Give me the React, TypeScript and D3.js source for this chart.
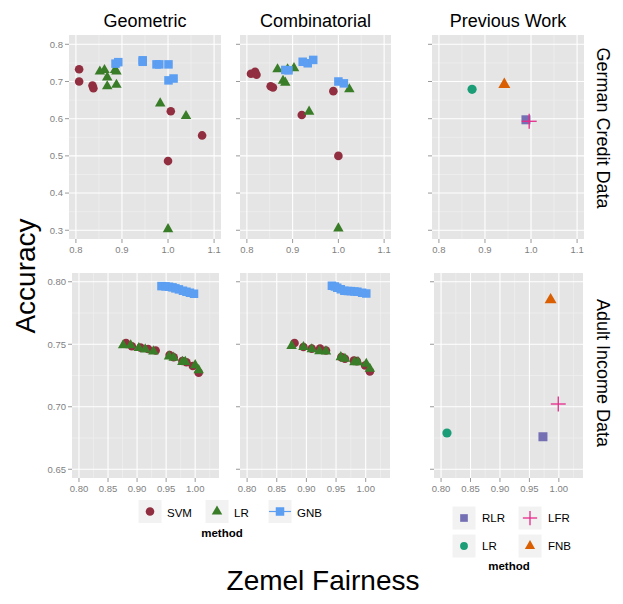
import React from "react";
import * as d3 from "d3";

type Pt = [number, number];

// ---------- Data: German Credit, Geometric ----------
const geoGermanSVM: Pt[] = [[0.807, 0.733], [0.807, 0.7], [0.836, 0.689], [0.838, 0.682], [1.006, 0.62], [1.074, 0.555], [1.0, 0.486]];
const geoGermanLR: Pt[] = [[0.852, 0.727], [0.862, 0.731], [0.868, 0.711], [0.868, 0.687], [0.885, 0.731], [0.888, 0.727], [0.888, 0.691], [0.983, 0.641], [1.039, 0.607], [1.0, 0.303]];
const geoGermanGNB: Pt[] = [[0.886, 0.748], [0.892, 0.752], [0.945, 0.757], [0.945, 0.753], [0.975, 0.746], [0.981, 0.746], [1.001, 0.746], [1.001, 0.703], [1.012, 0.708]];

// ---------- Data: German Credit, Combinatorial ----------
const comGermanSVM: Pt[] = [[0.809, 0.721], [0.818, 0.726], [0.821, 0.718], [0.852, 0.687], [0.857, 0.684], [0.92, 0.61], [0.989, 0.674], [1.0, 0.5]];
const comGermanLR: Pt[] = [[0.867, 0.733], [0.879, 0.702], [0.884, 0.697], [0.889, 0.733], [0.903, 0.736], [0.936, 0.619], [1.024, 0.679], [1.0, 0.305]];
const comGermanGNB: Pt[] = [[0.884, 0.731], [0.891, 0.73], [0.922, 0.753], [0.933, 0.749], [0.945, 0.758], [1.0, 0.7], [1.012, 0.695]];

// ---------- Data: German Credit, Previous Work ----------
const prevGermanRLR: Pt[] = [[0.989, 0.597]];
const prevGermanLFR: Pt[] = [[0.996, 0.593]];
const prevGermanLR: Pt[] = [[0.872, 0.679]];
const prevGermanFNB: Pt[] = [[0.942, 0.692]];

// ---------- Data: Adult Income, Geometric ----------
const geoAdultSVM: Pt[] = [[0.881, 0.751], [0.891, 0.7484], [0.906, 0.7473], [0.919, 0.7462], [0.932, 0.745], [0.956, 0.7414], [0.963, 0.7396], [0.978, 0.7366], [0.985, 0.7356], [0.996, 0.7326], [1.006, 0.7273]];
const geoAdultLR: Pt[] = [[0.876, 0.7492], [0.889, 0.7492], [0.903, 0.747], [0.914, 0.7459], [0.928, 0.7443], [0.955, 0.7403], [0.963, 0.7393], [0.978, 0.7359], [0.983, 0.7359], [1.0, 0.7333], [1.006, 0.7293]];
const geoAdultGNB: Pt[] = [[0.942, 0.7965], [0.949, 0.7963], [0.955, 0.796], [0.961, 0.7955], [0.966, 0.7947], [0.972, 0.7939], [0.979, 0.7928], [0.985, 0.792], [0.991, 0.7912], [0.998, 0.7904]];

// ---------- Data: Adult Income, Combinatorial ----------
const comAdultSVM: Pt[] = [[0.88, 0.751], [0.895, 0.7478], [0.909, 0.7465], [0.923, 0.7465], [0.933, 0.745], [0.959, 0.7397], [0.965, 0.7384], [0.98, 0.737], [0.985, 0.7365], [0.999, 0.733], [1.007, 0.7282]];
const comAdultLR: Pt[] = [[0.875, 0.7487], [0.895, 0.7478], [0.909, 0.746], [0.922, 0.7445], [0.933, 0.7443], [0.958, 0.7397], [0.965, 0.7384], [0.981, 0.7357], [0.987, 0.7357], [1.001, 0.7344], [1.007, 0.7304]];
const comAdultGNB: Pt[] = [[0.943, 0.7968], [0.948, 0.7962], [0.952, 0.7952], [0.958, 0.794], [0.964, 0.7928], [0.97, 0.7926], [0.975, 0.7925], [0.981, 0.7922], [0.986, 0.792], [0.994, 0.7912], [1.001, 0.7906]];

// ---------- Data: Adult Income, Previous Work ----------
const prevAdultRLR: Pt[] = [[0.973, 0.676]];
const prevAdultLFR: Pt[] = [[0.999, 0.7022]];
const prevAdultLR: Pt[] = [[0.81, 0.679]];
const prevAdultFNB: Pt[] = [[0.986, 0.7855]];

// ---------- Ticks ----------
const topXTicks = [0.8, 0.9, 1.0, 1.1];
const topXMinor = [0.85, 0.95, 1.05];
const topYTicks = [0.3, 0.4, 0.5, 0.6, 0.7, 0.8];
const topYMinor = [0.35, 0.45, 0.55, 0.65, 0.75];
const botXTicks = [0.8, 0.85, 0.9, 0.95, 1.0];
const botXMinor = [0.825, 0.875, 0.925, 0.975, 1.025];
const botYTicks = [0.65, 0.7, 0.75, 0.8];
const botYMinor = [0.675, 0.725, 0.775];

const colTitles = ["Geometric", "Combinatorial", "Previous Work"];
const rowTitles = ["German Credit Data", "Adult Income Data"];
const ourMethods = ["SVM", "LR", "GNB"];
const prevMethods = ["RLR", "LFR", "LR", "FNB"];

const FONT = "'Liberation Sans', Arial, Helvetica, sans-serif";
const C = {
  SVM: "#912f40",
  LR: "#3a7d28",
  GNB: "#5b9ef2",
  pRLR: "#7570b3",
  pLFR: "#e7298a",
  pLR: "#1b9e77",
  pFNB: "#d95f02",
};

type Shape = "circle" | "triangle" | "square" | "plus";

function Marker({ shape, cx, cy, color, s }: { shape: Shape; cx: number; cy: number; color: string; s: number }) {
  if (shape === "circle") return <circle cx={cx} cy={cy} r={s} fill={color} />;
  if (shape === "square") return <rect x={cx - s / 2} y={cy - s / 2} width={s} height={s} fill={color} />;
  if (shape === "triangle") {
    const h = (s * Math.sqrt(3)) / 2;
    const p = d3.path();
    p.moveTo(cx, cy - (2 * h) / 3);
    p.lineTo(cx - s / 2, cy + h / 3);
    p.lineTo(cx + s / 2, cy + h / 3);
    p.closePath();
    return <path d={p.toString()} fill={color} />;
  }
  return (
    <g stroke={color} strokeWidth={1.3}>
      <line x1={cx - s / 2} x2={cx + s / 2} y1={cy} y2={cy} />
      <line x1={cx} x2={cx} y1={cy - s / 2} y2={cy + s / 2} />
    </g>
  );
}

type Series = { data: Pt[]; shape: Shape; color: string; s: number };

type PanelProps = {
  x0: number; x1: number; y0: number; y1: number;
  xDom: [number, number]; yDom: [number, number];
  xTicks: number[]; xMinor: number[]; yTicks: number[]; yMinor: number[];
  fmt: string; yLabels: boolean; series: Series[];
};

function Panel(p: PanelProps) {
  const x = d3.scaleLinear().domain(p.xDom).range([p.x0, p.x1]);
  const y = d3.scaleLinear().domain(p.yDom).range([p.y1, p.y0]);
  const f = d3.format(p.fmt);
  const tickCol = "#7f7f7f";
  return (
    <g>
      <rect x={p.x0} y={p.y0} width={p.x1 - p.x0} height={p.y1 - p.y0} fill="#e5e5e5" />
      {p.xMinor.map((v) => (
        <line key={"xm" + v} x1={x(v)} x2={x(v)} y1={p.y0} y2={p.y1} stroke="#f2f2f2" strokeWidth={0.6} />
      ))}
      {p.yMinor.map((v) => (
        <line key={"ym" + v} x1={p.x0} x2={p.x1} y1={y(v)} y2={y(v)} stroke="#f2f2f2" strokeWidth={0.6} />
      ))}
      {p.xTicks.map((v) => (
        <line key={"xg" + v} x1={x(v)} x2={x(v)} y1={p.y0} y2={p.y1} stroke="#ffffff" strokeWidth={1.1} />
      ))}
      {p.yTicks.map((v) => (
        <line key={"yg" + v} x1={p.x0} x2={p.x1} y1={y(v)} y2={y(v)} stroke="#ffffff" strokeWidth={1.1} />
      ))}
      {p.xTicks.map((v) => (
        <g key={"xt" + v}>
          <line x1={x(v)} x2={x(v)} y1={p.y1} y2={p.y1 + 4} stroke={tickCol} strokeWidth={0.8} />
          <text x={x(v)} y={p.y1 + 14} textAnchor="middle" fontSize={9.5} fill={tickCol} fontFamily={FONT}>
            {f(v)}
          </text>
        </g>
      ))}
      {p.yTicks.map((v) => (
        <g key={"yt" + v}>
          <line x1={p.x0 - 4} x2={p.x0} y1={y(v)} y2={y(v)} stroke={tickCol} strokeWidth={0.8} />
          {p.yLabels && (
            <text x={p.x0 - 6} y={y(v) + 3.4} textAnchor="end" fontSize={9.5} fill={tickCol} fontFamily={FONT}>
              {f(v)}
            </text>
          )}
        </g>
      ))}
      {p.series.map((s, i) => (
        <g key={"s" + i}>
          {s.data.map((d, j) => (
            <Marker key={j} shape={s.shape} cx={x(d[0])} cy={y(d[1])} color={s.color} s={s.s} />
          ))}
        </g>
      ))}
    </g>
  );
}

const ours = (svm: Pt[], lr: Pt[], gnb: Pt[]): Series[] => [
  { data: svm, shape: "circle", color: C.SVM, s: 4.3 },
  { data: lr, shape: "triangle", color: C.LR, s: 10.5 },
  { data: gnb, shape: "square", color: C.GNB, s: 8.5 },
];
const prev = (rlr: Pt[], lfr: Pt[], lr: Pt[], fnb: Pt[]): Series[] => [
  { data: lr, shape: "circle", color: C.pLR, s: 4.6 },
  { data: fnb, shape: "triangle", color: C.pFNB, s: 12 },
  { data: rlr, shape: "square", color: C.pRLR, s: 9 },
  { data: lfr, shape: "plus", color: C.pLFR, s: 15 },
];

export default function App() {
  const topX: [number, number] = [0.785, 1.115];
  const topY: [number, number] = [0.2765, 0.825];
  const botX: [number, number] = [0.788, 1.041];
  const botY: [number, number] = [0.643, 0.807];
  const topCols = [[69, 221], [240, 391], [432, 584]];
  const botCols = [[72, 219], [240, 390], [434, 583]];
  const topRow = [35, 239];
  const botRow = [273, 478];
  const topSeries = [
    ours(geoGermanSVM, geoGermanLR, geoGermanGNB),
    ours(comGermanSVM, comGermanLR, comGermanGNB),
    prev(prevGermanRLR, prevGermanLFR, prevGermanLR, prevGermanFNB),
  ];
  const botSeries = [
    ours(geoAdultSVM, geoAdultLR, geoAdultGNB),
    ours(comAdultSVM, comAdultLR, comAdultGNB),
    prev(prevAdultRLR, prevAdultLFR, prevAdultLR, prevAdultFNB),
  ];

  const ourShapes: Shape[] = ["circle", "triangle", "square"];
  const ourColors = [C.SVM, C.LR, C.GNB];
  const ourSizes = [4.3, 10.5, 8.5];
  const ourKeyX = [138, 205, 268];

  const prevShapes: Shape[] = ["square", "plus", "circle", "triangle"];
  const prevColors = [C.pRLR, C.pLFR, C.pLR, C.pFNB];
  const prevSizes = [9, 15, 4.6, 12];
  const prevKeyPos = [[452, 506], [518, 506], [452, 534], [518, 534]];

  return (
    <svg width={623} height={604} style={{ position: "absolute", left: 0, top: 0, background: "#fff" }} fontFamily={FONT}>
      <rect x={0} y={0} width={623} height={604} fill="#fff" />
      {colTitles.map((t, i) => (
        <text key={t} x={(topCols[i][0] + topCols[i][1]) / 2} y={26.5} textAnchor="middle" fontSize={18} fill="#000">
          {t}
        </text>
      ))}
      {rowTitles.map((t, i) => {
        const cy = i === 0 ? 128 : 373;
        return (
          <text key={t} transform={`translate(597,${cy}) rotate(90)`} textAnchor="middle" fontSize={18} fill="#000">
            {t}
          </text>
        );
      })}
      {topCols.map((c, i) => (
        <Panel key={"t" + i} x0={c[0]} x1={c[1]} y0={topRow[0]} y1={topRow[1]} xDom={topX} yDom={topY}
          xTicks={topXTicks} xMinor={topXMinor} yTicks={topYTicks} yMinor={topYMinor} fmt=".1f"
          yLabels={i === 0} series={topSeries[i]} />
      ))}
      {botCols.map((c, i) => (
        <Panel key={"b" + i} x0={c[0]} x1={c[1]} y0={botRow[0]} y1={botRow[1]} xDom={botX} yDom={botY}
          xTicks={botXTicks} xMinor={botXMinor} yTicks={botYTicks} yMinor={botYMinor} fmt=".2f"
          yLabels={i === 0} series={botSeries[i]} />
      ))}
      <text transform="translate(35,276) rotate(-90)" textAnchor="middle" fontSize={28} fill="#000">Accuracy</text>
      <text x={323} y={590} textAnchor="middle" fontSize={28} fill="#000">Zemel Fairness</text>

      {/* legend 1 */}
      {ourMethods.map((m, i) => {
        const kx = ourKeyX[i];
        const ky = 499.5;
        return (
          <g key={"l1" + m}>
            <rect x={kx} y={ky} width={24} height={24} fill="#f2f2f2" stroke="#fff" />
            {m === "GNB" && <line x1={kx + 1} x2={kx + 23} y1={ky + 12} y2={ky + 12} stroke={C.GNB} strokeWidth={1.2} />}
            <Marker shape={ourShapes[i]} cx={kx + 12} cy={ky + 12} color={ourColors[i]} s={ourSizes[i]} />
            <text x={kx + 29} y={ky + 17} fontSize={11.5} fill="#000">{m}</text>
          </g>
        );
      })}
      <text x={222} y={537} textAnchor="middle" fontSize={11.5} fontWeight="bold" fill="#000">method</text>

      {/* legend 2 */}
      {prevMethods.map((m, i) => {
        const [kx, ky] = prevKeyPos[i];
        return (
          <g key={"l2" + m}>
            <rect x={kx} y={ky} width={24} height={24} fill="#f2f2f2" stroke="#fff" />
            <Marker shape={prevShapes[i]} cx={kx + 12} cy={ky + 12} color={prevColors[i]} s={prevSizes[i] * (i === 1 ? 0.95 : 0.85)} />
            <text x={kx + 30} y={ky + 16} fontSize={11.5} fill="#000">{m}</text>
          </g>
        );
      })}
      <text x={509} y={570} textAnchor="middle" fontSize={11.5} fontWeight="bold" fill="#000">method</text>
    </svg>
  );
}
